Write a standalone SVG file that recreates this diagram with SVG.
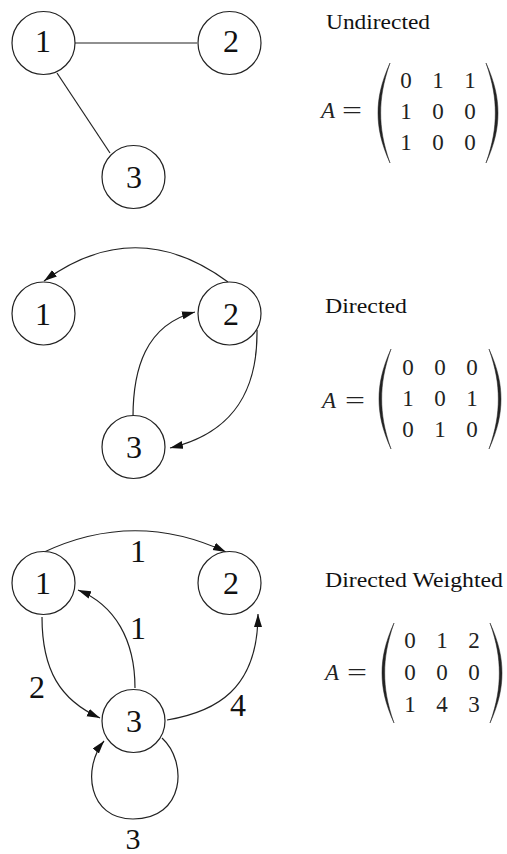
<svg xmlns="http://www.w3.org/2000/svg" width="507" height="854" viewBox="0 0 507 854">
<style>
.node circle{fill:#fff;stroke:#222;stroke-width:1.2}
.node text,.lbl{font-family:'Liberation Serif','DejaVu Serif',serif;font-size:32px;fill:#111;text-anchor:middle}
.edges path,.edges line{fill:none;stroke:#222;stroke-width:1.2}
.arr{marker-end:url(#ah)}
.title{font-family:'Liberation Serif','DejaVu Serif',serif;font-size:21px;fill:#111}
.mx{font-family:'Liberation Serif','DejaVu Serif',serif;font-size:23px;fill:#222;text-anchor:middle}
.mA{font-family:'Liberation Serif','DejaVu Serif',serif;font-size:23px;fill:#222;font-style:italic}
.eq{font-family:'Liberation Serif','DejaVu Serif',serif;font-size:23px;fill:#222}
.paren{fill:#222;stroke:#222;stroke-width:0.5}
</style>
<defs>
<marker id="ah" markerUnits="userSpaceOnUse" markerWidth="15" markerHeight="9" refX="13" refY="4" orient="auto">
<path d="M0,0 L13,4 L0,8 Z" fill="#111"/>
</marker>
<path id="lp" d="M0,-50 C-9,-30 -12,-15 -12,0 C-12,15 -9,30 0,50 C-7,30 -9.3,15 -9.3,0 C-9.3,-15 -7,-30 0,-50 Z"/>
</defs>

<!-- Undirected -->
<g class="edges" id="edges-undirected">
<line x1="75" y1="43" x2="197" y2="43"/>
<line x1="57" y1="73" x2="110" y2="153"/>
</g>
<g class="node" id="u1"><circle cx="43.5" cy="43" r="31.5"/><text x="43" y="52">1</text></g>
<g class="node" id="u2"><circle cx="229.5" cy="43" r="31.5"/><text x="231" y="52">2</text></g>
<g class="node" id="u3"><circle cx="133.5" cy="177" r="31.5"/><text x="134" y="188">3</text></g>

<text class="title" x="326" y="29" textLength="104" lengthAdjust="spacingAndGlyphs">Undirected</text>
<g id="matrix-undirected">
<text class="mA" x="321" y="118">A</text><text class="eq" x="342" y="118" textLength="20" lengthAdjust="spacingAndGlyphs">=</text>
<use href="#lp" class="paren" transform="translate(390,113)"/>
<use href="#lp" class="paren" transform="translate(486,113) scale(-1,1)"/>
<text class="mx" x="406" y="88">0</text><text class="mx" x="438" y="88">1</text><text class="mx" x="470" y="88">1</text>
<text class="mx" x="406" y="119">1</text><text class="mx" x="438" y="119">0</text><text class="mx" x="470" y="119">0</text>
<text class="mx" x="406" y="150">1</text><text class="mx" x="438" y="150">0</text><text class="mx" x="470" y="150">0</text>
</g>

<!-- Directed -->
<g class="edges" id="edges-directed">
<path class="arr" d="M228,282 Q136,214 44,281"/>
<path class="arr" d="M133,417 C133,370 145,325 195,312"/>
<path class="arr" d="M257,330 C258,400 225,435 170,448"/>
</g>
<g class="node" id="d1"><circle cx="43.5" cy="313.5" r="31.5"/><text x="43" y="325">1</text></g>
<g class="node" id="d2"><circle cx="229.5" cy="313.5" r="31.5"/><text x="231" y="325">2</text></g>
<g class="node" id="d3"><circle cx="133.5" cy="447" r="31.5"/><text x="134" y="458">3</text></g>

<text class="title" x="325" y="313" textLength="82" lengthAdjust="spacingAndGlyphs">Directed</text>
<g id="matrix-directed">
<text class="mA" x="322" y="408">A</text><text class="eq" x="345" y="408" textLength="20" lengthAdjust="spacingAndGlyphs">=</text>
<use href="#lp" class="paren" transform="translate(391,399)"/>
<use href="#lp" class="paren" transform="translate(489,399) scale(-1,1)"/>
<text class="mx" x="408" y="375">0</text><text class="mx" x="440" y="375">0</text><text class="mx" x="472" y="375">0</text>
<text class="mx" x="408" y="406">1</text><text class="mx" x="440" y="406">0</text><text class="mx" x="472" y="406">1</text>
<text class="mx" x="408" y="437">0</text><text class="mx" x="440" y="437">1</text><text class="mx" x="472" y="437">0</text>
</g>

<!-- Directed Weighted -->
<g class="edges" id="edges-weighted">
<path class="arr" d="M42,553 Q134,509 226,552"/>
<path class="arr" d="M135,688 C135,640 115,605 78,590"/>
<path class="arr" d="M42,617 C42,670 60,700 100,718"/>
<path class="arr" d="M167,720 C215,712 258,690 258,614"/>
<path class="arr" d="M162,738 C188,762 185,819 133,819 C88,819 82,768 104,741"/>
<text class="lbl" x="138" y="562">1</text>
<text class="lbl" x="138" y="639">1</text>
<text class="lbl" x="37" y="698">2</text>
<text class="lbl" x="238" y="716">4</text>
<text class="lbl" x="133" y="849" style="font-size:30px">3</text>
</g>
<g class="node" id="w1"><circle cx="43.5" cy="583" r="31.5"/><text x="43" y="594">1</text></g>
<g class="node" id="w2"><circle cx="229.5" cy="583" r="31.5"/><text x="231" y="594">2</text></g>
<g class="node" id="w3"><circle cx="133.5" cy="721" r="31.5"/><text x="134" y="732">3</text></g>

<text class="title" x="325" y="587" textLength="178" lengthAdjust="spacingAndGlyphs">Directed Weighted</text>
<g id="matrix-weighted">
<text class="mA" x="325" y="680">A</text><text class="eq" x="347" y="680" textLength="20" lengthAdjust="spacingAndGlyphs">=</text>
<use href="#lp" class="paren" transform="translate(394,673)"/>
<use href="#lp" class="paren" transform="translate(490,673) scale(-1,1)"/>
<text class="mx" x="410" y="648">0</text><text class="mx" x="442" y="648">1</text><text class="mx" x="474" y="648">2</text>
<text class="mx" x="410" y="680">0</text><text class="mx" x="442" y="680">0</text><text class="mx" x="474" y="680">0</text>
<text class="mx" x="410" y="712">1</text><text class="mx" x="442" y="712">4</text><text class="mx" x="474" y="712">3</text>
</g>
</svg>
